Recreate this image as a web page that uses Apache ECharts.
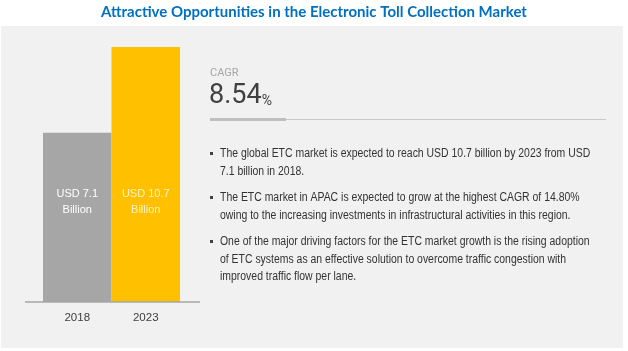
<!DOCTYPE html>
<html>
<head>
<meta charset="utf-8">
<script src="https://cdn.jsdelivr.net/npm/echarts@6/dist/echarts.min.js"></script>
<style>
  html, body { margin: 0; padding: 0; background: #fff; }
  #chart { width: 628px; height: 351px; }
</style>
</head>
<body>
<div id="chart"></div>
<script>
// data
var years = ['2018', '2023'];
var marketSize = [7.1, 10.7];
var barLabels = ['USD 7.1\nBillion', 'USD 10.7\nBillion'];
var barColors = ['#a6a6a6', '#ffc000'];
var labelColors = ['#ffffff', '#fff3c4'];
var cagrValue = '8.54';
var bullets = [
  'The global ETC market is expected to reach USD 10.7 billion by 2023 from USD\n7.1 billion in 2018.',
  'The ETC market in APAC is expected to grow at the highest CAGR of 14.80%\nowing to the increasing investments in infrastructural activities in this region.',
  'One of the major driving factors for the ETC market growth is the rising adoption\nof ETC systems as an effective solution to overcome traffic congestion with\nimproved traffic flow per lane.'
];
var bulletTops = [145, 189, 233];

var myChart = echarts.init(document.getElementById('chart'));

var graphics = [
  // gray panel
  { type: 'rect', z: -10, silent: true, shape: { x: 1, y: 26, width: 622, height: 322 }, style: { fill: '#f1f1f1' } },
  // baseline of the bars, wider than the bars
  { type: 'line', z: 10, shape: { x1: 25, y1: 302, x2: 200, y2: 302 }, style: { stroke: '#a6a6a6', lineWidth: 1.5 } },
  // CAGR block
  { type: 'text', left: 210, top: 68, style: { text: 'CAGR', fill: '#a6a6a6', font: '11px Roboto, Arial, sans-serif' } },
  { type: 'text', left: 209, top: 83, style: {
      text: '{big|' + cagrValue + '}{pct|%}',
      rich: {
        big: { fontSize: 27, fill: '#404040', fontFamily: 'Roboto, Arial, sans-serif', verticalAlign: 'bottom' },
        pct: { fontSize: 14, fill: '#404040', fontFamily: 'Roboto, Arial, sans-serif', verticalAlign: 'bottom', padding: [0, 0, 2, 0] }
      }
  } },
  { type: 'rect', shape: { x: 210, y: 118, width: 76, height: 3 }, style: { fill: '#bfbfbf' } },
  { type: 'line', shape: { x1: 286, y1: 119.5, x2: 606, y2: 119.5 }, style: { stroke: '#c8c8c8', lineWidth: 1 } }
];

bullets.forEach(function (b, i) {
  graphics.push({ type: 'rect', shape: { x: 210, y: bulletTops[i] + 7, width: 3, height: 3 }, style: { fill: '#404040' } });
  graphics.push({ type: 'text', x: 220, y: bulletTops[i], scaleX: 0.87, style: {
    text: b, fill: '#333333', font: '12px "Liberation Sans", Arial, sans-serif', lineHeight: 17.5, verticalAlign: 'top'
  } });
});

myChart.setOption({
  title: {
    text: 'Attractive Opportunities in the Electronic Toll Collection Market',
    left: 'center',
    top: 0,
    textStyle: { color: '#0070c0', fontSize: 15, fontWeight: 'bold', fontFamily: 'Lato, "Open Sans", sans-serif' }
  },
  grid: { left: 43, width: 137, top: 16, bottom: 49 },
  xAxis: {
    type: 'category',
    data: years,
    axisLine: { show: false },
    axisTick: { show: false },
    axisLabel: { color: '#404040', fontSize: 11.5, margin: 10, fontFamily: 'Arial, sans-serif' }
  },
  yAxis: { type: 'value', min: 0, max: 12, show: false, splitLine: { show: false } },
  series: [{
    type: 'bar',
    barCategoryGap: '0%',
    data: marketSize.map(function (v, i) {
      return {
        value: v,
        itemStyle: { color: barColors[i] },
        label: { formatter: barLabels[i], color: labelColors[i] }
      };
    }),
    label: {
      show: true,
      position: 'insideBottom',
      distance: 84,
      fontSize: 11,
      lineHeight: 16,
      fontFamily: 'Arial, sans-serif'
    },
    silent: true
  }],
  graphic: graphics
});
</script>
</body>
</html>
